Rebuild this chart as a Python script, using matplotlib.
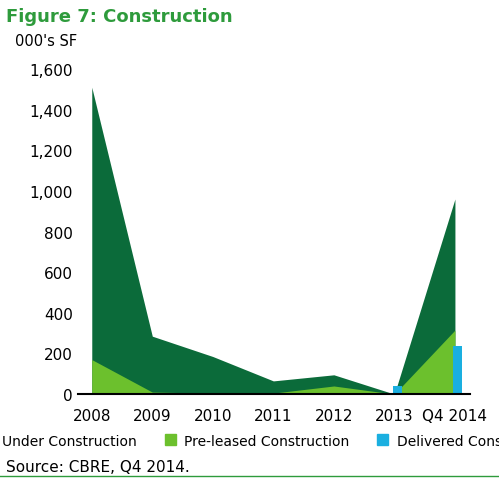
import matplotlib
matplotlib.use("Agg")
import matplotlib.pyplot as plt
import numpy as np

plt.rcParams['font.family'] = ['Liberation Sans Narrow', 'DejaVu Sans']

categories = ["2008", "2009", "2010", "2011", "2012", "2013", "Q4 2014"]
under = [1510, 285, 185, 65, 95, 0, 960]
preleased = [170, 10, 5, 5, 40, 0, 315]
delivered = [0, 0, 0, 0, 0, 40, 235]

fig = plt.figure(figsize=(4.99, 4.89), dpi=100)
ax = fig.add_axes([0.156, 0.192, 0.786, 0.665])
x = np.arange(len(categories))
dark = "#0b6b3a"; light = "#6cc02d"; blue = "#1aafe0"
ax.fill_between(x, 0, under, color=dark, linewidth=0)
ax.fill_between(x, 0, preleased, color=light, linewidth=0)
ax.bar(x + 0.05, delivered, width=0.15, color=blue)
ax.set_xlim(-0.23, 6.25)
ax.set_ylim(0, 1600)
ax.set_yticks(range(0, 1601, 200))
ax.set_yticklabels([f"{v:,}" for v in range(0, 1601, 200)], fontsize=11)
ax.set_xticks(x)
ax.set_xticklabels(categories, fontsize=11)
for s in ["top", "right", "left"]:
    ax.spines[s].set_visible(False)
ax.spines["bottom"].set_linewidth(1.5)
ax.tick_params(length=0)
ax.tick_params(axis="x", pad=10)
fig.text(0.012, 0.955, "Figure 7: Construction", color="#2e9b3c", fontsize=13, fontweight="bold")
fig.text(0.03, 0.905, "000's SF", fontsize=10.5)
fig.text(0.012, 0.035, "Source: CBRE, Q4 2014.", fontsize=11)
fig.lines.append(plt.Line2D([0, 1], [0.025, 0.025], transform=fig.transFigure, color="#2e9b3c", lw=1))
handles = [plt.Rectangle((0, 0), 1, 1, color=c) for c in (dark, light, blue)]
fig.legend(handles, ["Under Construction", "Pre-leased Construction", "Delivered Construction"],
           loc="center", bbox_to_anchor=(0.54, 0.097), ncol=3, frameon=False, fontsize=10,
           handlelength=0.8, handleheight=0.8, columnspacing=2.0, handletextpad=0.6)
fig.savefig("out.png", dpi=100)
